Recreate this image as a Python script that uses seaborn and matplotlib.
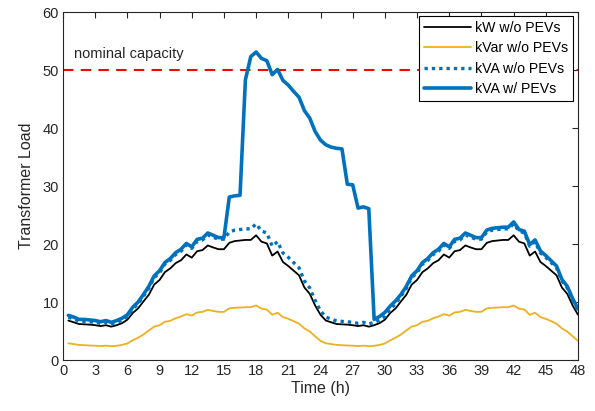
import numpy as np
import pandas as pd
import matplotlib
matplotlib.use("Agg")
import matplotlib.pyplot as plt
import seaborn as sns

# ---------------- data (half-hour resolution) ----------------
time_h = [0.5 * i for i in range(1, 97)]

kw_wo_pev = [
    6.8, 6.5, 6.2, 6.15, 6.1, 6.0, 5.85, 6.0, 5.75, 6.0, 6.35, 6.95,
    8.1, 8.9, 10.1, 11.25, 13.0, 13.8, 15.15, 15.8, 16.7, 17.2, 18.2, 17.65,
    18.75, 18.95, 19.75, 19.4, 19.1, 19.1, 20.2, 20.5, 20.6, 20.7, 20.7, 21.5,
    20.4, 20.1, 18.0, 18.7, 16.9, 16.2, 15.4, 14.6, 12.5, 11.4, 9.4, 7.8,
    6.8, 6.5, 6.2, 6.15, 6.1, 6.0, 5.85, 6.0, 5.75, 6.0, 6.35, 6.95,
    8.1, 8.9, 10.1, 11.25, 13.0, 13.8, 15.15, 15.8, 16.7, 17.2, 18.2, 17.65,
    18.75, 18.95, 19.75, 19.4, 19.1, 19.1, 20.2, 20.5, 20.6, 20.7, 20.7, 21.5,
    20.4, 20.1, 18.0, 18.7, 16.9, 16.2, 15.4, 14.6, 12.5, 11.4, 9.4, 7.8,
]

kvar_wo_pev = [
    2.87, 2.75, 2.6, 2.55, 2.5, 2.47, 2.4, 2.47, 2.38, 2.45, 2.6, 2.85,
    3.4, 3.85, 4.4, 5.1, 5.75, 6.0, 6.6, 6.75, 7.2, 7.5, 7.9, 7.65,
    8.2, 8.3, 8.65, 8.45, 8.3, 8.3, 8.9, 9.0, 9.05, 9.1, 9.1, 9.4,
    8.85, 8.7, 7.8, 8.15, 7.4, 7.1, 6.7, 6.25, 5.45, 4.9, 4.1, 3.3,
    2.87, 2.75, 2.6, 2.55, 2.5, 2.47, 2.4, 2.47, 2.38, 2.45, 2.6, 2.85,
    3.4, 3.85, 4.4, 5.1, 5.75, 6.0, 6.6, 6.75, 7.2, 7.5, 7.9, 7.65,
    8.2, 8.3, 8.65, 8.45, 8.3, 8.3, 8.9, 9.0, 9.05, 9.1, 9.1, 9.4,
    8.85, 8.7, 7.8, 8.15, 7.4, 7.1, 6.7, 6.25, 5.45, 4.9, 4.1, 3.3,
]

kva_wo_pev = [
    7.38, 7.06, 6.72, 6.66, 6.59, 6.49, 6.32, 6.49, 6.22, 6.48, 6.86, 7.51,
    8.78, 9.70, 11.02, 12.35, 14.21, 15.05, 16.53, 17.18, 18.19, 18.76, 19.84, 19.24,
    20.46, 20.69, 21.56, 21.16, 20.83, 20.83, 22.07, 22.39, 22.50, 22.61, 22.61, 23.47,
    22.24, 21.90, 19.62, 20.40, 18.45, 17.69, 16.79, 15.88, 13.64, 12.41, 10.26, 8.47,
    7.38, 7.06, 6.72, 6.66, 6.59, 6.49, 6.32, 6.49, 6.22, 6.48, 6.86, 7.51,
    8.78, 9.70, 11.02, 12.35, 14.21, 15.05, 16.53, 17.18, 18.19, 18.76, 19.84, 19.24,
    20.46, 20.69, 21.56, 21.16, 20.83, 20.83, 22.07, 22.39, 22.50, 22.61, 22.61, 23.47,
    22.24, 21.90, 19.62, 20.40, 18.45, 17.69, 16.79, 15.88, 13.64, 12.41, 10.26, 8.47,
]

kva_w_pev = [
    7.7, 7.4, 7.0, 7.0, 6.9, 6.8, 6.6, 6.8, 6.5, 6.8, 7.2, 7.8,
    9.1, 10.0, 11.3, 12.7, 14.5, 15.4, 16.8, 17.5, 18.5, 19.1, 20.1, 19.5,
    20.8, 21.0, 21.9, 21.5, 21.1, 21.1, 28.1, 28.3, 28.4, 48.3, 52.3, 53.1,
    52.0, 51.6, 49.2, 50.1, 48.2, 47.4, 46.3, 45.3, 43.0, 41.7, 39.4, 37.9,
    37.1, 36.7, 36.5, 36.4, 30.3, 30.2, 26.2, 26.4, 26.1, 7.0, 7.5, 8.2,
    9.3, 10.2, 11.3, 12.7, 14.5, 15.4, 16.8, 17.5, 18.5, 19.1, 20.1, 19.5,
    20.8, 21.0, 21.9, 21.5, 21.1, 21.1, 22.4, 22.7, 22.8, 22.9, 22.9, 23.8,
    22.5, 22.2, 19.9, 20.7, 18.8, 18.0, 17.1, 16.2, 13.9, 12.7, 10.6, 8.8,
]

nominal_capacity = 50
x_ticks = list(range(0, 49, 3))
y_ticks = list(range(0, 61, 10))

series_labels = ["kW w/o PEVs", "kVar w/o PEVs", "kVA w/o PEVs", "kVA w/ PEVs"]

# ---------------- style ----------------
sns.set_theme(style="white")
plt.rcParams["font.family"] = ["Liberation Sans", "DejaVu Sans"]
plt.rcParams["xtick.direction"] = "in"
plt.rcParams["ytick.direction"] = "in"

MBLUE = "#0072BD"
MYELLOW = "#EDB120"
AXCOL = "#262626"

fig = plt.figure(figsize=(5.95, 4.11), dpi=100)
ax = fig.add_axes([63 / 595, 1 - 360 / 411, 515 / 595, 348 / 411])

df = pd.DataFrame({
    "t": time_h,
    "kw": kw_wo_pev,
    "kvar": kvar_wo_pev,
    "kva": kva_wo_pev,
    "kvap": kva_w_pev,
})

ax.axhline(nominal_capacity, color="#FF0000", lw=1.5, ls=(0, (5, 3.5)), zorder=1)

sns.lineplot(data=df, x="t", y="kw", ax=ax, color="black", lw=1.3,
             label=series_labels[0], zorder=3)
sns.lineplot(data=df, x="t", y="kvar", ax=ax, color=MYELLOW, lw=1.3,
             label=series_labels[1], zorder=3)
sns.lineplot(data=df, x="t", y="kva", ax=ax, color=MBLUE, lw=2.4,
             label=series_labels[2], zorder=3)
ax.lines[-1].set_linestyle((0, (1, 1.2)))
sns.lineplot(data=df, x="t", y="kvap", ax=ax, color=MBLUE, lw=2.6,
             label=series_labels[3], zorder=4)

ax.text(1.0, 51.5, "nominal capacity", fontsize=10.5, color=AXCOL,
        ha="left", va="bottom")

ax.set_xlim(0, 48)
ax.set_ylim(0, 60)
ax.set_xticks(x_ticks)
ax.set_yticks(y_ticks)
ax.set_xlabel("Time (h)", fontsize=11.5, color=AXCOL, labelpad=2)
ax.set_ylabel("Transformer Load", fontsize=11.5, color=AXCOL, labelpad=6)
ax.tick_params(axis="both", which="both", direction="in", length=4, width=0.8,
               colors=AXCOL, labelsize=10.5, top=True, right=True, pad=3)
for sp in ax.spines.values():
    sp.set_color(AXCOL)
    sp.set_linewidth(0.8)
    sp.set_visible(True)

leg = ax.legend(loc="upper right", bbox_to_anchor=(0.990, 0.9885),
                fontsize=10.2, handlelength=3.3, handletextpad=0.3,
                labelspacing=0.45, borderpad=0.35, borderaxespad=0,
                fancybox=False, framealpha=1, edgecolor="black")
leg.get_frame().set_linewidth(0.8)
for txt in leg.get_texts():
    txt.set_color("black")
hl = leg.get_lines()
hl[2].set_linestyle((0, (1, 1.2)))

fig.savefig("out.png", dpi=100)
